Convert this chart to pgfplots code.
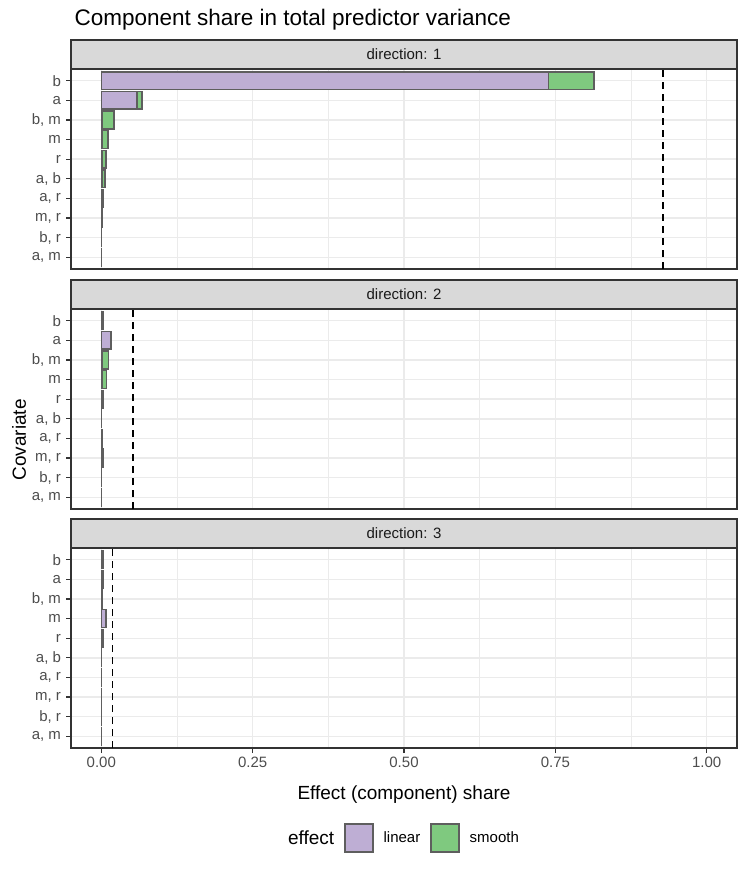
\documentclass[border=0pt]{standalone}
\usepackage{pgfplots}
\pgfplotsset{compat=1.18}
\usepackage{fontspec}
\setmainfont{Liberation Sans}
\definecolor{lin}{HTML}{BEAED4}
\definecolor{smo}{HTML}{7FC97F}
\definecolor{gridc}{HTML}{EBEBEB}
\definecolor{g20}{HTML}{333333}
\definecolor{g30}{HTML}{4D4D4D}
\definecolor{g10}{HTML}{1A1A1A}
\definecolor{stripc}{HTML}{D9D9D9}
\definecolor{barline}{HTML}{5E5E5E}

\pgfplotsset{
  facet/.style={
    width=666pt, height=200pt, scale only axis,
    xmin=-0.05, xmax=1.05, ymin=0.4, ymax=10.6,
    xbar stacked, bar width=0.9,
    ytick={1,...,10},
    yticklabels={{a, m},{b, r},{m, r},{a, r},{a, b},r,m,{b, m},a,b},
    xtick={0,0.25,0.5,0.75,1},
    minor xtick={0.125,0.375,0.625,0.875},
    xticklabels={0.00,0.25,0.50,0.75,1.00},
    grid=both,
    major grid style={gridc, line width=1.4pt},
    minor grid style={gridc, line width=0.8pt},
    axis line style={g20, line width=1.1pt},
    tick style={g20, line width=1.1pt},
    major tick length=5pt, minor tick length=0pt,
    tick align=outside,
    ytick pos=left,
    xtick pos=bottom,
    yticklabel style={font=\fontsize{15}{17}\selectfont, text=g30, xshift=-1.5pt},
    xticklabel style={font=\fontsize{15}{17}\selectfont, text=g30},
    clip=false,
    legend image code/.code={\draw[#1] (0pt,-14pt) rectangle (28pt,14pt);},
  },
  linbar/.style={fill=lin, draw=barline, line width=1.4pt},
  smobar/.style={fill=smo, draw=barline, line width=1.4pt},
  vline/.style={stack plots=false, sharp plot, black, line width=1.8pt, dash pattern=on 7pt off 5pt, forget plot},
}

\begin{document}
\begin{tikzpicture}[x=1pt,y=1pt]
\path (0,0) rectangle (747,-872);

\node[anchor=base west, font=\fontsize{22.5}{26}\selectfont] at (71,-26) {Component share in total predictor variance};

% ---------- direction 1
\begin{axis}[facet, name=ax1, at={(71pt,-69pt)}, anchor=north west, xticklabels={}, xtick style={draw=none}]
\addplot[linbar] coordinates {(0.0005,1) (0.0005,2) (0.0005,3) (0.003,4) (0.001,5) (0.001,6) (0.002,7) (0.001,8) (0.059,9) (0.739,10)};
\addplot[smobar] coordinates {(0.0003,1) (0.0003,2) (0.0005,3) (0.001,4) (0.005,5) (0.007,6) (0.009,7) (0.020,8) (0.008,9) (0.075,10)};
\addplot[vline] coordinates {(0.928,0.4) (0.928,10.6)};
\end{axis}

% ---------- direction 2
\begin{axis}[facet, name=ax2, at={(71pt,-309pt)}, anchor=north west, xticklabels={}, xtick style={draw=none}]
\addplot[linbar] coordinates {(0.0005,1) (0.0005,2) (0.0015,3) (0.001,4) (0.0005,5) (0.003,6) (0.002,7) (0.001,8) (0.015,9) (0.001,10)};
\addplot[smobar] coordinates {(0.0003,1) (0.0003,2) (0.0015,3) (0.001,4) (0.0003,5) (0.001,6) (0.007,7) (0.011,8) (0.001,9) (0.003,10)};
\addplot[vline] coordinates {(0.052,0.4) (0.052,10.6)};
\end{axis}

% ---------- direction 3
\begin{axis}[facet, name=ax3, at={(71pt,-548pt)}, anchor=north west,
  legend columns=3,
  legend style={at={(rel axis cs:0.494,-0.45)}, anchor=center, draw=none, fill=none,
    font=\fontsize{15}{17}\selectfont, column sep=7pt,
    nodes={inner sep=3pt}},
  ]
\addlegendimage{empty legend}
\addlegendentry{\fontsize{19}{22}\selectfont effect}
\addplot[linbar] coordinates {(0.0005,1) (0.0005,2) (0.0005,3) (0.0005,4) (0.0005,5) (0.002,6) (0.007,7) (0.001,8) (0.002,9) (0.003,10)};
\addlegendentry{linear}
\addplot[smobar] coordinates {(0.0003,1) (0.0003,2) (0.0003,3) (0.0003,4) (0.0003,5) (0.001,6) (0.001,7) (0.001,8) (0.001,9) (0.001,10)};
\addlegendentry{smooth}
\addplot[vline] coordinates {(0.0187,0.4) (0.0187,10.6)};
\end{axis}

\foreach \a/\d in {ax1/1, ax2/2, ax3/3}{
  \draw[fill=stripc, draw=g20, line width=1.1pt] (\a.north west) rectangle ([yshift=29pt]\a.north east);
  \node[font=\fontsize{15}{17}\selectfont, text=g10] at ([yshift=14.5pt]\a.north) {direction: \d};
}

\node[font=\fontsize{19}{22}\selectfont, anchor=base] at (404,-799) {Effect (component) share};
\node[rotate=90, font=\fontsize{19}{22}\selectfont] at (19,-440) {Covariate};
\end{tikzpicture}
\end{document}
